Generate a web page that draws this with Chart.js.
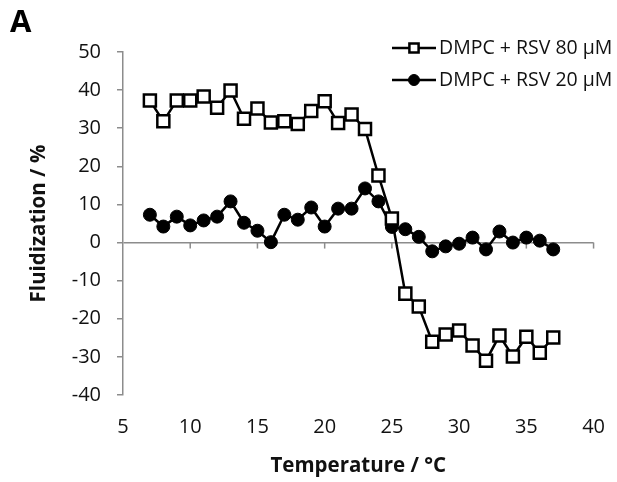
<!DOCTYPE html>
<html lang="en">
<head>
<meta charset="UTF-8">
<title>Fluidization vs temperature</title>
<style>
    html, body { margin: 0; padding: 0; background: #fff; }
    .quadro { position: relative; width: 617px; height: 482px; }
    .letra { position: absolute; left: 10px; top: -1px; font: bold 31px "Open Sans", sans-serif; color: #000; }
</style>
</head>
<body>
<div class="quadro">
    <div class="letra">A</div>
    <canvas id="myChart" width="617" height="482"></canvas>
</div>

<script src="https://cdn.jsdelivr.net/npm/chart.js"></script>
<script>
// temperatures (°C) shared by both series
const temperaturas = [7, 8, 9, 10, 11, 12, 13, 14, 15, 16, 17, 18, 19, 20, 21, 22,
    23, 24, 25, 26, 27, 28, 29, 30, 31, 32, 33, 34, 35, 36, 37];

// fluidization (%)
const rsv80 = [37.3, 31.8, 37.3, 37.3, 38.3, 35.4, 39.9, 32.5, 35.2, 31.5, 31.8, 31.1,
    34.5, 37.1, 31.4, 33.6, 29.8, 17.6, 6.3, -13.4, -16.8, -26.0, -24.1, -23.1, -27.0,
    -31.0, -24.4, -29.9, -24.7, -28.9, -24.9];
const rsv20 = [7.3, 4.2, 6.8, 4.5, 5.8, 6.8, 10.8, 5.2, 3.1, 0.1, 7.3, 6.0,
    9.2, 4.2, 8.9, 8.9, 14.2, 10.8, 4.1, 3.5, 1.5, -2.3, -1.0, -0.3, 1.3,
    -1.8, 2.9, 0.0, 1.3, 0.5, -1.8];

const ticksX = [5, 10, 15, 20, 25, 30, 35, 40];
const ticksY = [-40, -30, -20, -10, 0, 10, 20, 30, 40, 50];

const nomes = ['DMPC + RSV 80 \u00b5M', 'DMPC + RSV 20 \u00b5M'];

const corEixo = '#8c8c8c';
const fonte = '"Open Sans", sans-serif';

function pontos(valores) {
    return temperaturas.map((t, i) => ({ x: t, y: valores[i] }));
}

// small ticks hanging under the zero line
const marcasX = {
    id: 'marcasX',
    beforeDatasetsDraw(chart) {
        const { ctx, scales: { x, y } } = chart;
        const y0 = y.getPixelForValue(0);
        ctx.save();
        ctx.strokeStyle = corEixo;
        ctx.lineWidth = 1.5;
        ticksX.forEach(v => {
            if (v === ticksX[0]) return;
            const px = x.getPixelForValue(v);
            ctx.beginPath();
            ctx.moveTo(px, y0);
            ctx.lineTo(px, y0 + 6);
            ctx.stroke();
        });
        ctx.restore();
    }
};

// legend: line + marker + label, like the original
const legendaLinha = {
    id: 'legendaLinha',
    afterDraw(chart) {
        const ctx = chart.ctx;
        const linhas = [48, 80];
        ctx.save();
        chart.data.datasets.forEach((ds, i) => {
            const yl = linhas[i];
            ctx.strokeStyle = '#000';
            ctx.lineWidth = 2.5;
            ctx.beginPath();
            ctx.moveTo(392, yl);
            ctx.lineTo(436, yl);
            ctx.stroke();
            ctx.fillStyle = ds.pointBackgroundColor;
            ctx.strokeStyle = ds.pointBorderColor;
            ctx.lineWidth = ds.pointBorderWidth;
            Chart.helpers.drawPoint(ctx, {
                pointStyle: ds.pointStyle,
                radius: ds.pointStyle === 'rect' ? 6.5 : 5.5,
                rotation: 0,
                borderWidth: ds.pointBorderWidth
            }, 414, yl);
            ctx.fillStyle = '#111';
            ctx.font = '19.5px ' + fonte;
            ctx.textAlign = 'left';
            ctx.textBaseline = 'middle';
            ctx.fillText(ds.label, 439, yl);
        });
        ctx.restore();
    }
};

const ctx = document.getElementById('myChart');
new Chart(ctx, {
    type: 'scatter',
    data: {
        datasets: [{
            label: nomes[0],
            data: pontos(rsv80),
            showLine: true,
            borderColor: '#000',
            borderWidth: 2.5,
            pointStyle: 'rect',
            pointRadius: 8.5,
            pointBackgroundColor: '#fff',
            pointBorderColor: '#000',
            pointBorderWidth: 2.5
        }, {
            label: nomes[1],
            data: pontos(rsv20),
            showLine: true,
            borderColor: '#000',
            borderWidth: 2.5,
            pointStyle: 'circle',
            pointRadius: 6.5,
            pointBackgroundColor: '#000',
            pointBorderColor: '#000',
            pointBorderWidth: 1
        }]
    },
    options: {
        responsive: false,
        animation: false,
        layout: { padding: { left: 0, top: 52, right: 9, bottom: 0 } },
        plugins: {
            legend: { display: false },
            tooltip: { enabled: false }
        },
        scales: {
            x: {
                type: 'linear',
                min: 5,
                max: 40,
                afterBuildTicks: s => { s.ticks = ticksX.map(v => ({ value: v })); },
                afterFit: s => { s.height = 87; },
                grid: { display: false },
                border: { display: false },
                ticks: {
                    padding: 12,
                    color: '#111',
                    font: { family: fonte, size: 20 }
                },
                title: {
                    display: true,
                    text: 'Temperature / \u00b0C',
                    color: '#111',
                    font: { family: fonte, size: 20.5, weight: 'bold' },
                    padding: { top: 0, bottom: 4 }
                }
            },
            y: {
                min: -40,
                max: 50,
                afterBuildTicks: s => { s.ticks = ticksY.map(v => ({ value: v })); },
                afterFit: s => { s.width = 123; },
                grid: {
                    drawOnChartArea: true,
                    color: c => (c.tick && c.tick.value === 0) ? corEixo : 'rgba(0,0,0,0)',
                    tickColor: corEixo,
                    tickLength: 6,
                    lineWidth: 1.5
                },
                border: { display: true, color: corEixo, width: 1.5 },
                ticks: {
                    padding: 16,
                    color: '#111',
                    font: { family: fonte, size: 20 }
                },
                title: {
                    display: true,
                    text: 'Fluidization / %',
                    color: '#111',
                    font: { family: fonte, size: 20.5, weight: 'bold' },
                    padding: { top: 27, bottom: 0 }
                }
            }
        }
    },
    plugins: [marcasX, legendaLinha]
});
</script>
</body>
</html>
